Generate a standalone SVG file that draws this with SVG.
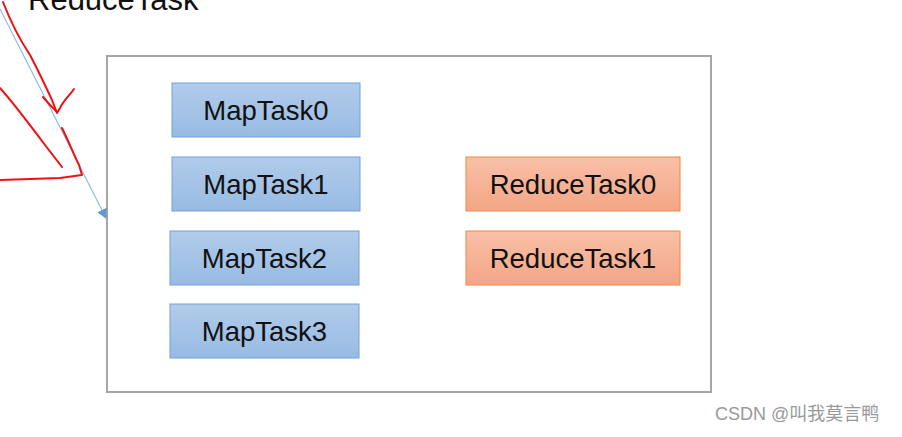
<svg xmlns="http://www.w3.org/2000/svg" width="902" height="437" viewBox="0 0 902 437">
<defs>
<linearGradient id="gb" x1="0" y1="0" x2="0" y2="1"><stop offset="0" stop-color="#b1cbea"/><stop offset="1" stop-color="#98bbe3"/></linearGradient>
<linearGradient id="go" x1="0" y1="0" x2="0" y2="1"><stop offset="0" stop-color="#f8c0a9"/><stop offset="1" stop-color="#f4a585"/></linearGradient>
<marker id="ah" markerWidth="10" markerHeight="10" refX="9" refY="5" orient="auto" markerUnits="userSpaceOnUse"><path d="M0,0 L10,5 L0,10 z" fill="#5b9bd5"/></marker>
<style>
.map rect{fill:url(#gb);stroke:#6ea3dc;stroke-width:1}
.red rect{fill:url(#go);stroke:#f0883e;stroke-width:1}
.lbl{font-family:"Liberation Sans",Arial,sans-serif;font-size:27.5px;fill:#111;text-anchor:middle}
.hand{fill:none;stroke:#ee1111;stroke-width:2;stroke-linecap:round;stroke-linejoin:round}
</style>
</defs>
<rect width="902" height="437" fill="#fff"/>
<text x="28" y="10" font-family="Liberation Sans, Arial, sans-serif" font-size="31" fill="#111">ReduceTask</text>
<rect id="container" x="107" y="56" width="604" height="336" fill="#fff" stroke="#a6a6a6" stroke-width="2"/>
<g id="connectors">
<line x1="0" y1="9" x2="106" y2="218" stroke="#8dbbe6" stroke-width="1.2" marker-end="url(#ah)"/>
</g>
<g id="annotation">
<path class="hand" d="M3,2 C10,20 20,40 30,55 C38,70 45,85 52,100 L57,113 L60,108 C64,100 70,95 74,89"/>
<path class="hand" d="M43,97 L50,105 L57,112"/>
<path class="hand" d="M0,88 C15,105 30,125 45,145 L62,167"/>
<path class="hand" d="M62,128 C68,140 74,155 79,165 L82,175 L60,178 L0,180"/>
</g>
<g id="MapTask0" class="map"><rect x="172" y="83" width="188" height="54"/><text class="lbl" x="266" y="120">MapTask0</text></g>
<g id="MapTask1" class="map"><rect x="172" y="157" width="188" height="54"/><text class="lbl" x="266" y="194">MapTask1</text></g>
<g id="MapTask2" class="map"><rect x="170" y="231" width="189" height="54"/><text class="lbl" x="264.5" y="268">MapTask2</text></g>
<g id="MapTask3" class="map"><rect x="170" y="304" width="189" height="54"/><text class="lbl" x="264.5" y="341">MapTask3</text></g>
<g id="ReduceTask0" class="red"><rect x="466" y="157" width="214" height="54"/><text class="lbl" x="573" y="194">ReduceTask0</text></g>
<g id="ReduceTask1" class="red"><rect x="466" y="231" width="214" height="54"/><text class="lbl" x="573" y="268">ReduceTask1</text></g>
<text x="715" y="420" font-family="Liberation Sans, Noto Sans CJK SC, sans-serif" font-size="18" fill="#999">CSDN @叫我莫言鸭</text>
</svg>
